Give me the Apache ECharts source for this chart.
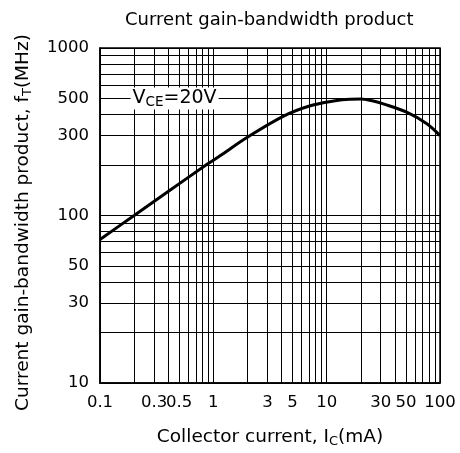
<!DOCTYPE html>
<html>
<head>
<meta charset="utf-8">
<script src="https://cdn.jsdelivr.net/npm/echarts@6/dist/echarts.min.js"></script>
<style>html,body{margin:0;padding:0;background:#fff}#c{width:460px;height:453px}</style>
</head>
<body>
<div id="c"></div>
<script>
// Collector current Ic (mA)
const ic = [0.1, 0.2, 0.405, 0.88, 1.155, 1.98, 4.17, 7.16, 11.5, 16, 20, 25.8, 31.6, 50.8, 76, 100];
// Transition frequency fT (MHz)
const ft = [72, 100, 140, 202, 228, 292, 392, 452, 483, 495, 496, 482, 464, 414, 354, 300];

const xGrid = [0.1,0.2,0.3,0.4,0.5,0.6,0.7,0.8,0.9,1,2,3,4,5,6,7,8,9,10,20,30,40,50,60,70,80,90,100];
const xLabels = [0.1,0.3,0.5,1,3,5,10,30,50,100];
const yGrid = [10,20,30,40,50,60,70,80,90,100,200,300,400,500,600,700,800,900,1000];
const yLabels = [10,30,50,100,300,500,1000];

const FONT = 'DejaVu Sans, Liberation Sans, Arial, sans-serif';
const fmt = v => String(parseFloat((+v).toPrecision(4)));

const chart = echarts.init(document.getElementById('c'), null, {renderer: 'canvas'});
chart.setOption({
  animation: false,
  backgroundColor: '#fff',
  textStyle: {fontFamily: FONT},
  title: {
    text: 'Current gain-bandwidth product',
    left: 120, top: 6,
    textStyle: {fontFamily: FONT, fontSize: 18, fontWeight: 'normal', color: '#000'}
  },
  grid: {left: 100, right: 20, top: 48, bottom: 70, show: true, borderColor: '#000', borderWidth: 1.5, backgroundColor: 'transparent'},
  xAxis: {
    type: 'log', logBase: 10, min: 0.1, max: 100,
    name: 'Collector current, I{s|C}(mA)',
    nameLocation: 'middle', nameGap: 43,
    nameTextStyle: {fontFamily: FONT, fontSize: 18.5, color: '#000', lineHeight: 22,
      rich: {s: {fontFamily: FONT, fontSize: 13, color: '#000', verticalAlign: 'bottom', lineHeight: 14}}},
    axisLine: {show: true, lineStyle: {color: '#000', width: 1.5}},
    axisTick: {show: false, customValues: xGrid},
    splitLine: {show: true, lineStyle: {color: '#000', width: 1}},
    axisLabel: {customValues: xLabels, formatter: fmt, fontFamily: FONT, fontSize: 16.5, color: '#000', margin: 11}
  },
  yAxis: {
    type: 'log', logBase: 10, min: 10, max: 1000,
    name: 'Current gain-bandwidth product, f{s|T}(MHz)',
    nameLocation: 'middle', nameGap: 66, nameRotate: 90,
    nameTextStyle: {fontFamily: FONT, fontSize: 18.5, color: '#000', lineHeight: 22, padding: [0, 14, 0, 0],
      rich: {s: {fontFamily: FONT, fontSize: 13, color: '#000', verticalAlign: 'bottom', lineHeight: 14}}},
    axisLine: {show: true, lineStyle: {color: '#000', width: 1.5}},
    axisTick: {show: false, customValues: yGrid},
    splitLine: {show: true, lineStyle: {color: '#000', width: 1}},
    axisLabel: {customValues: yLabels, formatter: fmt, fontFamily: FONT, fontSize: 16.5, color: '#000', margin: 11}
  },
  series: [{
    type: 'line',
    data: ic.map((x, i) => [x, ft[i]]),
    smooth: 0.35,
    showSymbol: false,
    lineStyle: {color: '#000', width: 3},
    z: 5,
    markPoint: {
      symbol: 'rect', symbolSize: 0,
      data: [{coord: [0.455, 500]}],
      label: {
        show: true, position: 'inside',
        formatter: 'V{s|CE}=20V',
        fontFamily: FONT, fontSize: 19, color: '#000', lineHeight: 22,
        backgroundColor: '#fff', padding: [0, 2],
        rich: {s: {fontFamily: FONT, fontSize: 13.5, color: '#000', verticalAlign: 'bottom', lineHeight: 15}}
      }
    }
  }]
});
</script>
</body>
</html>
